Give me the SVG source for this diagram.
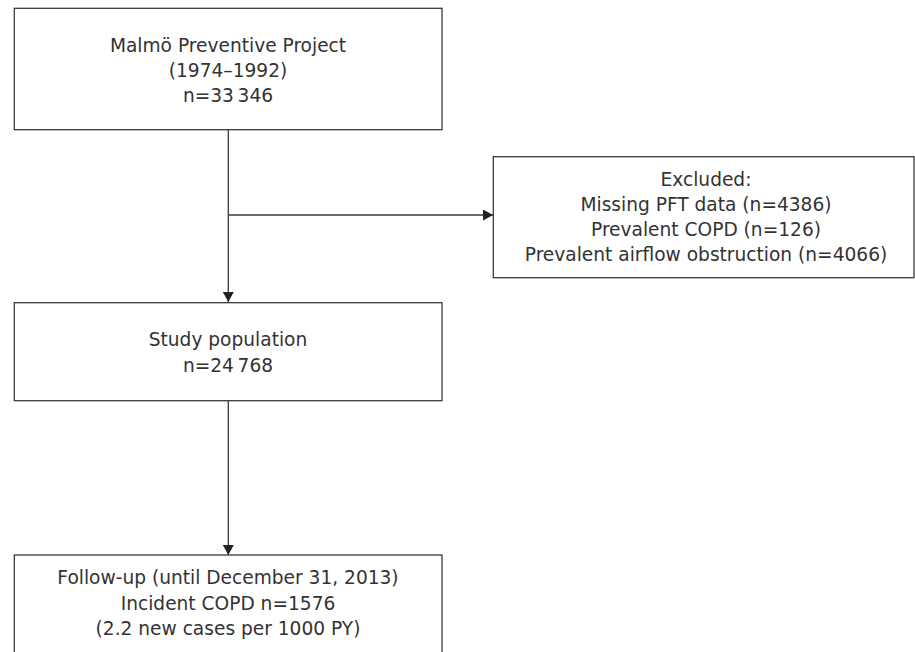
<svg xmlns="http://www.w3.org/2000/svg" width="915" height="652" viewBox="0 0 915 652">
<style>
  .box { fill: #ffffff; stroke: #3a3a3a; stroke-width: 1.3; }
  .lbl { font-family: "DejaVu Sans", "Liberation Sans", sans-serif; font-size: 18.6px; fill: #333333; text-anchor: middle; }
  .conn { stroke: #3a3a3a; stroke-width: 1.3; fill: none; }
</style>
<defs>
  <marker id="arrow" viewBox="0 0 10 11" refX="10" refY="5.5" markerWidth="10" markerHeight="11" markerUnits="userSpaceOnUse" orient="auto">
    <path d="M0,0 L10,5.5 L0,11 Z" fill="#222222"/>
  </marker>
</defs>
<rect width="915" height="652" fill="#ffffff"/>
<g id="connectors">
  <line class="conn" x1="228.3" y1="130" x2="228.3" y2="302" marker-end="url(#arrow)"/>
  <line class="conn" x1="228.3" y1="215" x2="493" y2="215" marker-end="url(#arrow)"/>
  <line class="conn" x1="228.3" y1="401" x2="228.3" y2="555" marker-end="url(#arrow)"/>
</g>
<g id="node-mpp">
  <rect class="box" x="14.3" y="8.3" width="427.7" height="121.4"/>
  <text class="lbl" x="228" y="51.7">Malmö Preventive Project</text>
  <text class="lbl" x="228" y="76.7">(1974–1992)</text>
  <text class="lbl" x="228" y="101.7">n=33&#8201;346</text>
</g>
<g id="node-excluded">
  <rect class="box" x="493.3" y="156.7" width="420.7" height="121"/>
  <text class="lbl" x="706" y="185.5">Excluded:</text>
  <text class="lbl" x="706" y="210.5">Missing PFT data (n=4386)</text>
  <text class="lbl" x="706" y="235.5">Prevalent COPD (n=126)</text>
  <text class="lbl" x="706" y="260.5">Prevalent airflow obstruction (n=4066)</text>
</g>
<g id="node-study">
  <rect class="box" x="14.3" y="302.7" width="427.7" height="98"/>
  <text class="lbl" x="228" y="346">Study population</text>
  <text class="lbl" x="228" y="371.5">n=24&#8201;768</text>
</g>
<g id="node-followup">
  <rect class="box" x="14.3" y="555" width="427.7" height="110"/>
  <text class="lbl" x="228" y="584">Follow-up (until December 31, 2013)</text>
  <text class="lbl" x="228" y="609.5">Incident COPD n=1576</text>
  <text class="lbl" x="228" y="635">(2.2 new cases per 1000 PY)</text>
</g>
</svg>
